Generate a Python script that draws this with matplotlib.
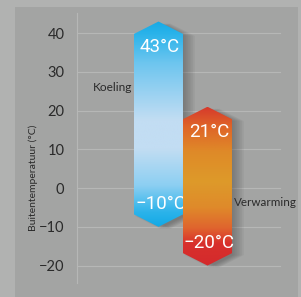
import numpy as np
import matplotlib
matplotlib.use('Agg')
import matplotlib.pyplot as plt
from matplotlib.patches import Polygon, Rectangle
from matplotlib.colors import LinearSegmentedColormap

# --- data ---
modes = ['Koeling', 'Verwarming']
highs = [43, 21]
lows = [-10, -20]
yticks = [-20, -10, 0, 10, 20, 30, 40]
ylabel = 'Buitentemperatuur (°C)'

# --- style ---
OUTER_BG = '#b1b2b1'
PANEL_BG = '#a3a4a3'
GRID_COLOR = '#b6b7b6'
TEXT_COLOR = '#2a2a2a'
ARROW = 3.2  # height of the pointed ends, in degrees
BLUE_STOPS = [(0.0, '#17aae6'), (0.06, '#2ab3ea'), (0.2, '#6cc5ef'),
              (0.48, '#c2ddf3'), (0.62, '#c2ddf3'), (0.8, '#8ccff2'),
              (0.93, '#2bb3ea'), (1.0, '#12a9e6')]
ORANGE_STOPS = [(0.0, '#d63a2c'), (0.12, '#df6428'), (0.28, '#df8a28'),
                (0.47, '#dd9a2a'), (0.63, '#df8a2a'), (0.76, '#e0652e'),
                (0.86, '#d8302c'), (1.0, '#d42a2c')]

fig = plt.figure(figsize=(3.01, 2.97), dpi=100)
fig.patch.set_facecolor(OUTER_BG)
fig.patches.append(Rectangle((15 / 301, 0), 283 / 301, 290 / 297,
                             transform=fig.transFigure, facecolor=PANEL_BG,
                             edgecolor='none', zorder=-5))

ax = fig.add_axes([77 / 301, 14 / 297, 221 / 301, 270 / 297])
ax.set_facecolor('none')
ax.set_xlim(-1.663, 2.847)
ax.set_ylim(-24.5, 45.2)

for s in ['top', 'right', 'bottom']:
    ax.spines[s].set_visible(False)
ax.spines['left'].set_color(GRID_COLOR)
ax.spines['left'].set_linewidth(0.8)
ax.set_xticks([])
ax.set_yticks(yticks)
ax.tick_params(axis='y', length=0, pad=9, labelsize=10.5, labelcolor=TEXT_COLOR)
ax.set_yticklabels([f'{t}'.replace('-', '\u2212') for t in yticks])
for lab in ax.get_yticklabels():
    lab.set_fontfamily('Lato')
for t in yticks:
    ax.axhline(t, xmin=0, xmax=0.92, color=GRID_COLOR, lw=0.8, zorder=1)

ax.set_ylabel(ylabel, fontsize=7.5, color=TEXT_COLOR, family='Lato')
ax.yaxis.set_label_coords(-0.175, 0.39)


def bar_shape(x, lo, hi, w=0.5):
    return [(x - w, lo + ARROW), (x, lo), (x + w, lo + ARROW),
            (x + w, hi - ARROW), (x, hi), (x - w, hi - ARROW)]


for i, (lo, hi, stops) in enumerate(zip(lows, highs, [BLUE_STOPS, ORANGE_STOPS])):
    # soft drop shadow
    for k in range(7):
        off = 0.03 + k * 0.035
        sh = Polygon([(px + off, py - 0.5) for px, py in bar_shape(i, lo, hi)],
                     closed=True, facecolor='#454545', edgecolor='none',
                     alpha=0.07, zorder=2 + i * 3)
        ax.add_patch(sh)
    poly = Polygon(bar_shape(i, lo, hi), closed=True, facecolor='none',
                   edgecolor='none', zorder=3 + i * 3)
    ax.add_patch(poly)
    cmap = LinearSegmentedColormap.from_list(f'bar{i}', stops)
    grad = np.linspace(0, 1, 256).reshape(-1, 1)
    im = ax.imshow(grad, cmap=cmap, aspect='auto', extent=(i - 0.5, i + 0.5, lo, hi),
                   origin='upper', zorder=3 + i * 3, interpolation='bilinear')
    im.set_clip_path(poly)
    ax.text(i + 0.03, hi - 6.6, f'{hi}°C'.replace('-', '\u2212'), color='white',
            fontsize=13.5, family='Roboto', ha='center', va='center', zorder=4 + i * 3)
    ax.text(i + 0.04, lo + 5.9, f'{lo}°C'.replace('-', '\u2212'), color='white',
            fontsize=13.5, family='Roboto', ha='center', va='center', zorder=4 + i * 3)

ax.set_xlim(-1.663, 2.847)
ax.set_ylim(-24.5, 45.2)

ax.text(-0.54, 26.0, modes[0], fontsize=8.6, color=TEXT_COLOR, family='Lato',
        ha='right', va='center')
ax.text(1.55, -3.6, modes[1], fontsize=8.4, color=TEXT_COLOR, family='Lato',
        ha='left', va='center', clip_on=False)

fig.savefig('out.png', dpi=100, facecolor=fig.get_facecolor())
